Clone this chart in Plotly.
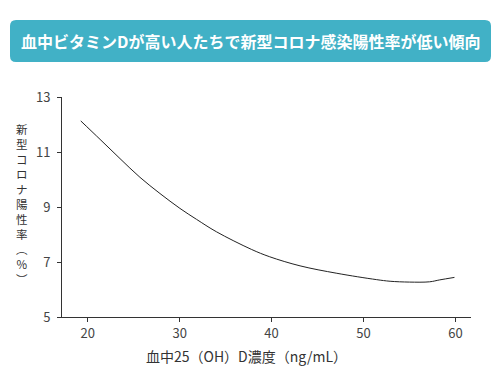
import plotly.graph_objects as go

vitd = [19.24, 21.34, 23.51, 25.68, 27.86, 30.03, 31.84, 34.0, 37.8, 39.8, 43.1, 47.1, 51.4, 52.9, 55.0, 57.2, 58.3, 59.9]
rate = [12.13, 11.46, 10.76, 10.08, 9.49, 8.95, 8.55, 8.10, 7.46, 7.19, 6.86, 6.59, 6.36, 6.30, 6.27, 6.28, 6.35, 6.44]

x_ticks = [20, 30, 40, 50, 60]
y_ticks = [5, 7, 9, 11, 13]

title_text = "血中ビタミンDが高い人たちで新型コロナ感染陽性率が低い傾向"
x_title = "血中25（OH）D濃度（ng/mL）"
y_title_chars = ["新", "型", "コ", "ロ", "ナ", "陽", "性", "率", "︵", "%", "︶"]

FONT = "Noto Sans CJK JP"
W, H = 500, 385
L, R, T, B = 62, 29, 97, 68
pw, ph = W - L - R, H - T - B

def px(x):
    return (x - L) / pw

def py(y):
    return (H - B - y) / ph

fig = go.Figure()
fig.add_trace(go.Scatter(x=vitd, y=rate, mode="lines", line=dict(color="#222", width=1, shape="spline", smoothing=1.0),
                         hoverinfo="skip", showlegend=False))

# rounded title box
x0, x1, y0, y1, r = 10, 491, 20, 62, 6
path = (f"M {px(x0+r)},{py(y0)} L {px(x1-r)},{py(y0)} Q {px(x1)},{py(y0)} {px(x1)},{py(y0+r)} "
        f"L {px(x1)},{py(y1-r)} Q {px(x1)},{py(y1)} {px(x1-r)},{py(y1)} "
        f"L {px(x0+r)},{py(y1)} Q {px(x0)},{py(y1)} {px(x0)},{py(y1-r)} "
        f"L {px(x0)},{py(y0+r)} Q {px(x0)},{py(y0)} {px(x0+r)},{py(y0)} Z")
fig.add_shape(type="path", path=path, xref="paper", yref="paper", fillcolor="#41b1c6", line=dict(width=0), layer="above")

fig.add_annotation(x=px(250), y=py(41), xref="paper", yref="paper", text=title_text, showarrow=False,
                   font=dict(family=FONT, size=16, color="white", weight="bold"), xanchor="center", yanchor="middle")

fig.add_annotation(x=px(246), y=py(356), xref="paper", yref="paper", text=x_title, showarrow=False,
                   font=dict(family=FONT, size=14, color="#333"), xanchor="center", yanchor="middle")

fig.add_annotation(x=px(22), y=py(204), xref="paper", yref="paper", text="<br>".join(y_title_chars), showarrow=False,
                   font=dict(family=FONT, size=11.5, color="#333"), xanchor="center", yanchor="middle", align="center")

fig.update_layout(
    width=W, height=H, margin=dict(l=L, r=R, t=T, b=B),
    paper_bgcolor="white", plot_bgcolor="white",
    font=dict(family=FONT, color="#333", size=13),
    xaxis=dict(range=[17.2, 61.7], tickvals=x_ticks, showgrid=False, zeroline=False, showline=True,
               linecolor="#333", linewidth=1, ticks="outside", ticklen=4, tickcolor="#333",
               tickfont=dict(size=13, color="#444"), automargin=False),
    yaxis=dict(range=[5, 13], tickvals=y_ticks, showgrid=False, zeroline=False, showline=True,
               linecolor="#333", linewidth=1, ticks="outside", ticklen=4, tickcolor="#333",
               tickfont=dict(size=13, color="#444"), ticklabelstandoff=4, automargin=False),
)

fig.write_html("out.html", config={"displayModeBar": False},
               post_script="document.body.style.margin='0';document.body.style.overflow='hidden';")
